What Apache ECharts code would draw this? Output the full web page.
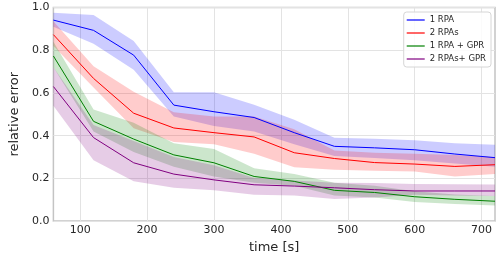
<!DOCTYPE html>
<html>
<head>
<meta charset="utf-8">
<script src="https://cdn.jsdelivr.net/npm/echarts@6/dist/echarts.min.js"></script>
<style>html,body{margin:0;padding:0;background:#fff}#c{width:500px;height:259px}</style>
</head>
<body>
<div id="c"></div>
<script>
const times = [60, 120, 180, 240, 300, 360, 420, 480, 540, 600, 660, 720];
const xTicks = [100, 200, 300, 400, 500, 600, 700];

const rpa1Mean = [0.941, 0.893, 0.777, 0.543, 0.512, 0.485, 0.414, 0.350, 0.343, 0.334, 0.314, 0.297];
const rpa1High = [0.975, 0.965, 0.843, 0.603, 0.603, 0.545, 0.475, 0.390, 0.385, 0.378, 0.365, 0.357];
const rpa1Low  = [0.910, 0.830, 0.709, 0.490, 0.445, 0.420, 0.360, 0.305, 0.295, 0.285, 0.270, 0.255];

const rpa2Mean = [0.873, 0.668, 0.505, 0.436, 0.414, 0.394, 0.320, 0.293, 0.274, 0.267, 0.256, 0.264];
const rpa2High = [0.936, 0.725, 0.605, 0.510, 0.490, 0.490, 0.430, 0.330, 0.320, 0.315, 0.310, 0.300];
const rpa2Low  = [0.820, 0.625, 0.435, 0.370, 0.360, 0.315, 0.252, 0.240, 0.236, 0.232, 0.209, 0.220];

const gpr1Mean = [0.773, 0.467, 0.384, 0.310, 0.273, 0.209, 0.186, 0.144, 0.134, 0.114, 0.102, 0.093];
const gpr1High = [0.840, 0.523, 0.460, 0.365, 0.338, 0.247, 0.221, 0.180, 0.165, 0.140, 0.125, 0.118];
const gpr1Low  = [0.720, 0.420, 0.323, 0.255, 0.209, 0.179, 0.165, 0.120, 0.110, 0.090, 0.080, 0.073];

const gpr2Mean = [0.630, 0.391, 0.273, 0.220, 0.193, 0.170, 0.164, 0.156, 0.147, 0.141, 0.141, 0.141];
const gpr2High = [0.720, 0.450, 0.375, 0.300, 0.262, 0.202, 0.190, 0.179, 0.178, 0.174, 0.172, 0.171];
const gpr2Low  = [0.540, 0.285, 0.186, 0.156, 0.145, 0.123, 0.120, 0.103, 0.110, 0.123, 0.120, 0.118];

const names = ['1 RPA', '2 RPAs', '1 RPA + GPR', '2 RPAs+ GPR'];

const groups = [
  {name: names[0], mean: rpa1Mean, lo: rpa1Low, hi: rpa1High, color: '#0000ff', fill: 'rgba(0,0,255,0.2)'},
  {name: names[1], mean: rpa2Mean, lo: rpa2Low, hi: rpa2High, color: '#ff0000', fill: 'rgba(255,0,0,0.2)'},
  {name: names[2], mean: gpr1Mean, lo: gpr1Low, hi: gpr1High, color: '#008000', fill: 'rgba(0,128,0,0.2)'},
  {name: names[3], mean: gpr2Mean, lo: gpr2Low, hi: gpr2High, color: '#800080', fill: 'rgba(128,0,128,0.2)'}
];

const series = [];
groups.forEach((g, i) => {
  series.push({
    type: 'custom', name: g.name + ' band', silent: true, z: 1,
    data: times.map((t, k) => [t, g.lo[k], g.hi[k]]),
    encode: {x: 0, y: [1, 2]},
    renderItem: function (params, api) {
      if (params.dataIndex !== 0) return null;
      const upper = times.map((t, k) => api.coord([t, g.hi[k]]));
      const lower = times.map((t, k) => api.coord([t, g.lo[k]])).reverse();
      return {
        type: 'polygon',
        shape: {points: upper.concat(lower)},
        style: {fill: g.fill, stroke: null}
      };
    }
  });
});
groups.forEach((g) => {
  series.push({
    type: 'line', name: g.name, symbol: 'none',
    data: times.map((t, k) => [t, g.mean[k]]),
    lineStyle: {color: g.color, width: 1}, itemStyle: {color: g.color}, z: 3
  });
});

const chart = echarts.init(document.getElementById('c'), null, {renderer: 'canvas'});
chart.setOption({
  animation: false,
  backgroundColor: '#ffffff',
  grid: {left: 39, right: 5, top: 7.5, bottom: 31.3, show: true, borderColor: '#c4c4c4', borderWidth: 1.5, backgroundColor: 'transparent'},
  xAxis: {
    type: 'value', min: 60, max: 720,
    name: 'time [s]', nameLocation: 'middle', nameGap: 13,
    nameTextStyle: {fontFamily: 'DejaVu Sans', fontSize: 13, color: '#262626'},
    axisLine: {show: false},
    axisTick: {show: false, customValues: xTicks},
    axisLabel: {customValues: xTicks, fontFamily: 'DejaVu Sans', fontSize: 11, color: '#262626', margin: 4},
    splitLine: {show: true, lineStyle: {color: '#e3e3e3', width: 1}}
  },
  yAxis: {
    type: 'value', min: 0, max: 1, interval: 0.2,
    name: 'relative error', nameLocation: 'middle', nameGap: 27, nameRotate: 90,
    nameTextStyle: {fontFamily: 'DejaVu Sans', fontSize: 13, color: '#262626'},
    axisLine: {show: false}, axisTick: {show: false},
    axisLabel: {fontFamily: 'DejaVu Sans', fontSize: 11, color: '#262626', margin: 4, formatter: v => v.toFixed(1)},
    splitLine: {show: true, lineStyle: {color: '#e3e3e3', width: 1}}
  },
  legend: {
    data: names, orient: 'vertical', right: 9, top: 12,
    icon: 'rect', itemWidth: 18, itemHeight: 1.2,
    padding: [3, 5, 3, 3], itemGap: 3,
    backgroundColor: 'rgba(255,255,255,0.85)', borderColor: '#d6d6d6', borderWidth: 1, borderRadius: 3,
    textStyle: {fontFamily: 'DejaVu Sans', fontSize: 8.5, color: '#262626', lineHeight: 10}
  },
  series: series
});
</script>
</body>
</html>
